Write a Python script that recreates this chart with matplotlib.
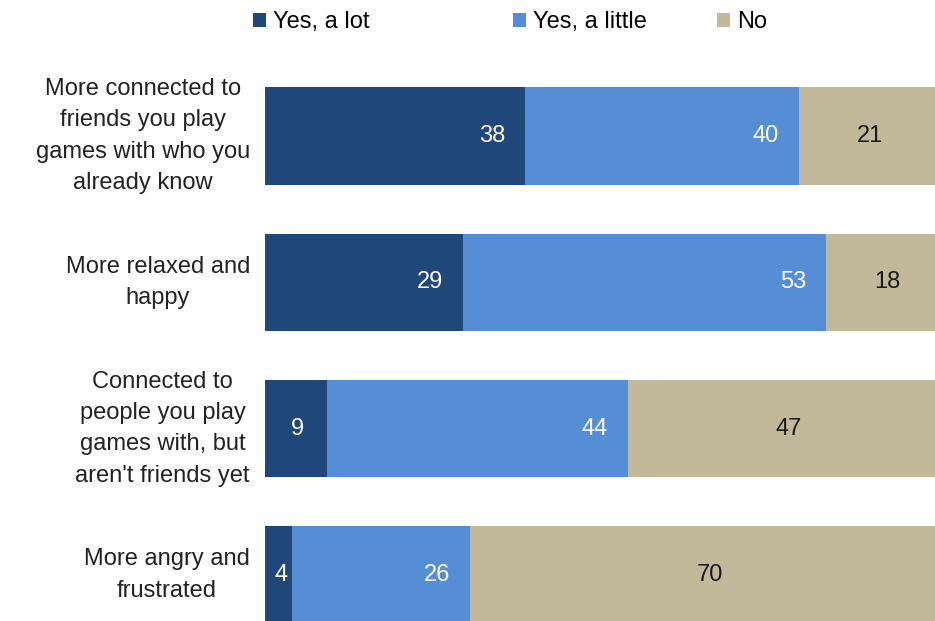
import matplotlib.pyplot as plt
from matplotlib.patches import Patch

plt.rcParams['font.family'] = ['Liberation Sans', 'DejaVu Sans']

categories = ["More connected to\nfriends you play\ngames with who you\nalready know",
              "More relaxed and\nhappy",
              "Connected to\npeople you play\ngames with, but\naren't friends yet",
              "More angry and\nfrustrated"]
series = ["Yes, a lot", "Yes, a little", "No"]
yes_lot = [38, 29, 9, 4]
yes_little = [40, 53, 44, 26]
no = [21, 18, 47, 70]

colors = ["#1f477a", "#558ed5", "#c2b99b"]
text_colors = ["white", "white", "#1a1a1a"]

fig = plt.figure(figsize=(9.35, 6.21), dpi=100)
ax = fig.add_axes([265/935, 0, 670/935, 1], frameon=False)

ypos = list(range(len(categories)))
left = [0] * len(categories)
for k, (vals, col, tcol) in enumerate(zip([yes_lot, yes_little, no], colors, text_colors)):
    ax.barh(ypos, vals, left=left, height=0.665, color=col, edgecolor="none")
    for i, v in enumerate(vals):
        end = left[i] + v
        if k == 2:
            ax.text(left[i] + v / 2, i, str(v), ha="center", va="center",
                    fontsize=17, color=tcol)
        elif v < 10:
            ax.text(left[i] + v / 2 + 0.3, i, str(v), ha="center", va="center",
                    fontsize=17, color=tcol)
        else:
            ax.text(end - 2.9, i, str(v), ha="right", va="center",
                    fontsize=17, color=tcol)
    left = [l + v for l, v in zip(left, vals)]

for i, c in enumerate(categories):
    ax.text(-2.2, i, c, ha="right", va="center", multialignment="center",
            fontsize=17, color="#222222", linespacing=1.55)

ax.set_xlim(0, 670 / 6.84)
ax.set_ylim((621 - 136) / 146.3, -136 / 146.3)
ax.set_xticks([])
ax.set_yticks([])

# legend entries sit at uneven spacing in the original, so place each one
legend_x = [253, 513, 717]
for name, col, lx in zip(series, colors, legend_x):
    fig.legend([Patch(facecolor=col, edgecolor="none")], [name],
               loc="center left", bbox_to_anchor=(lx / 935, 1 - 22 / 621),
               frameon=False, fontsize=17, handlelength=0.55, handleheight=0.55,
               handletextpad=0.3, borderpad=0, borderaxespad=0)

fig.savefig("out.png", dpi=100)
